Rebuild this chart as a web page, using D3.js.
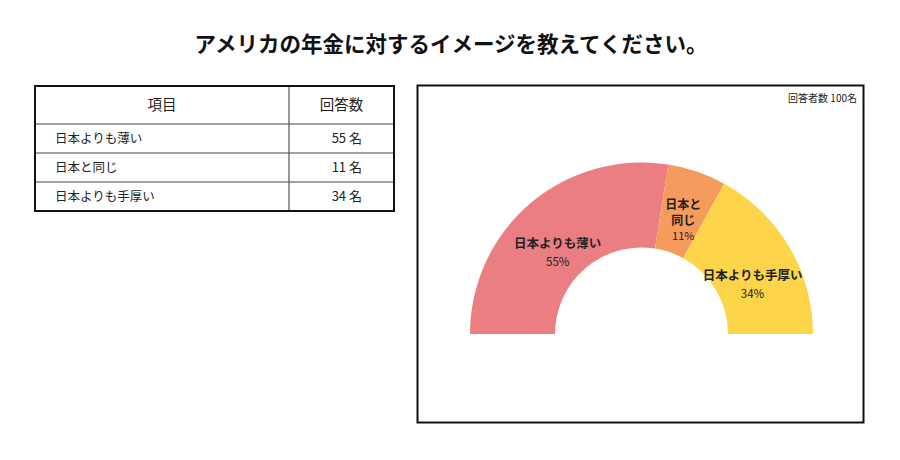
<!DOCTYPE html>
<html><head><meta charset="utf-8">
<script src="https://cdn.jsdelivr.net/npm/d3@7"></script>
<style>body{margin:0;background:#fff;}svg{display:block;font-family:"Noto Sans CJK JP","Noto Sans",sans-serif;}</style>
</head><body>
<svg id="c" width="900" height="460"></svg>
<script>
const title = "アメリカの年金に対するイメージを教えてください。";
const categories = ["日本よりも薄い", "日本と同じ", "日本よりも手厚い"];
const labelLines = [["日本よりも薄い"], ["日本と", "同じ"], ["日本よりも手厚い"]];
const counts = [55, 11, 34];
const colors = ["#EA7E82", "#F69B5E", "#FDD54B"];
const tableHeaders = ["項目", "回答数"];
const respondentNote = "回答者数 100名";

const svg = d3.select("#c");
svg.append("rect").attr("width", 900).attr("height", 460).attr("fill", "#fff");

svg.append("text").attr("x", 451).attr("y", 52).attr("text-anchor", "middle")
  .attr("font-size", 21.5).attr("font-weight", 700).attr("fill", "#111").text(title);

// Table
const tx0 = 35, tx1 = 394, tcol = 289, ty0 = 86, headH = 38, rowH = 29;
const tg = svg.append("g");
const rowsY = d3.range(categories.length + 1).map(i => ty0 + headH + i * rowH);
const ty1 = rowsY[rowsY.length - 1];
rowsY.slice(0, -1).forEach(y => tg.append("line").attr("x1", tx0).attr("x2", tx1).attr("y1", y).attr("y2", y).attr("stroke", "#444").attr("stroke-width", 1));
tg.append("line").attr("x1", tcol).attr("x2", tcol).attr("y1", ty0).attr("y2", ty1).attr("stroke", "#555").attr("stroke-width", 1.2);
tg.append("rect").attr("x", tx0).attr("y", ty0).attr("width", tx1 - tx0).attr("height", ty1 - ty0)
  .attr("fill", "none").attr("stroke", "#111").attr("stroke-width", 2);
tg.append("text").attr("x", (tx0 + tcol) / 2).attr("y", ty0 + headH / 2 + 5).attr("text-anchor", "middle").attr("font-size", 14.5).attr("fill", "#222").text(tableHeaders[0]);
tg.append("text").attr("x", (tcol + tx1) / 2).attr("y", ty0 + headH / 2 + 5).attr("text-anchor", "middle").attr("font-size", 14.5).attr("fill", "#222").text(tableHeaders[1]);
categories.forEach((c, i) => {
  const yc = rowsY[i] + rowH / 2 + 4.5;
  tg.append("text").attr("x", tx0 + 20).attr("y", yc).attr("font-size", 12.5).attr("fill", "#222").text(c);
  tg.append("text").attr("x", 362).attr("y", yc).attr("text-anchor", "end").attr("font-size", 13).attr("fill", "#222").text(counts[i] + " 名");
});

// Chart box
svg.append("rect").attr("x", 417.5).attr("y", 85.5).attr("width", 446).attr("height", 337)
  .attr("fill", "none").attr("stroke", "#111").attr("stroke-width", 2);
svg.append("text").attr("x", 857).attr("y", 102).attr("text-anchor", "end").attr("font-size", 10).attr("fill", "#222").text(respondentNote);

const cx = 641.5, cy = 334, rOuter = 171.5, rInner = 86.5;
const total = d3.sum(counts);
const pie = d3.pie().sort(null).startAngle(-Math.PI / 2).endAngle(Math.PI / 2);
const arcs = pie(counts);
const arc = d3.arc().innerRadius(rInner).outerRadius(rOuter);
const g = svg.append("g").attr("transform", `translate(${cx},${cy})`);
g.selectAll("path").data(arcs).join("path").attr("d", arc).attr("fill", (d, i) => colors[i]);

arcs.forEach((d, i) => {
  const [x, y] = arc.centroid(d);
  const lines = labelLines[i];
  const multi = lines.length > 1;
  const lastY = y + (multi ? 13 : 12);
  lines.forEach((ln, j) => {
    g.append("text").attr("x", x).attr("y", lastY - (lines.length - 1 - j) * 16)
      .attr("text-anchor", "middle").attr("font-size", multi ? 12 : 12.5).attr("font-weight", 700).attr("fill", "#222").text(ln);
  });
  g.append("text").attr("x", x).attr("y", lastY + (multi ? 15 : 18))
    .attr("text-anchor", "middle").attr("font-size", multi ? 11 : 11.5).attr("fill", "#222")
    .text(Math.round(d.data / total * 100) + "%");
});
</script>
</body></html>
